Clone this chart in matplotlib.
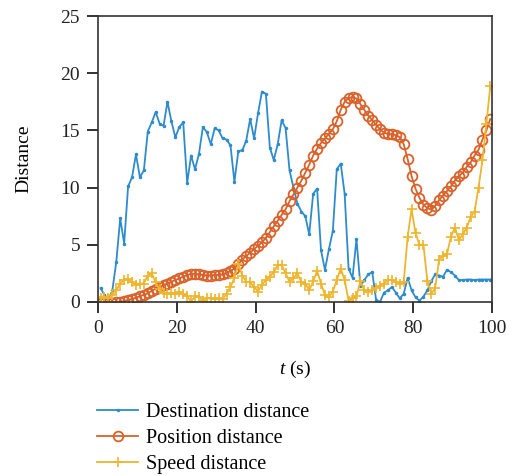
import numpy as np
import matplotlib
matplotlib.use('Agg')
import matplotlib.pyplot as plt

plt.rcParams['font.family'] = ['Liberation Serif', 'DejaVu Serif']
plt.rcParams['mathtext.fontset'] = 'custom'
plt.rcParams['mathtext.it'] = 'Liberation Serif:italic'
plt.rcParams['mathtext.rm'] = 'Liberation Serif'

# sample times (s)
t = np.arange(1, 101) - 0.4

destination = [
    1.2, 0.6, 0.1, 1.0, 3.5, 7.3, 5.1, 10.1, 10.9, 12.9,
    10.9, 11.5, 14.9, 15.7, 16.6, 15.6, 15.4, 17.5, 15.8, 14.4,
    15.3, 15.7, 10.4, 12.8, 11.6, 12.95, 15.3, 14.85, 13.8, 15.2,
    15.0, 14.3, 14.2, 13.7, 10.5, 13.2, 13.25, 14.1, 16.0, 14.3,
    16.5, 18.4, 18.2, 13.5, 12.4, 13.8, 15.9, 15.2, 11.5, 10.0,
    8.6, 7.9, 7.5, 5.9, 9.45, 9.9, 4.5, 2.8, 4.6, 6.2,
    11.6, 12.1, 9.45, 2.9, 2.1, 5.5, 1.4, 1.9, 2.4, 2.6,
    0.15, 0.0, 0.8, 1.0, 1.3, 0.8, 0.3, 0.7, 2.1, 1.0,
    0.4, 0.1, 0.45, 1.0, 1.8, 2.4, 2.3, 2.2, 2.8, 2.6,
    2.3, 1.9, 1.9, 1.95, 1.95, 1.9, 1.95, 1.95, 1.95, 1.95,
]

position = [
    -0.1, -0.1, -0.1, -0.1, -0.05, 0.0, 0.05, 0.15, 0.25, 0.35,
    0.5, 0.6, 0.75, 0.95, 1.15, 1.3, 1.45, 1.6, 1.75, 1.9,
    2.05, 2.2, 2.35, 2.45, 2.45, 2.4, 2.35, 2.3, 2.3, 2.35,
    2.35, 2.4, 2.5, 2.7, 2.9, 3.3, 3.7, 4.0, 4.3, 4.6,
    4.9, 5.2, 5.6, 6.1, 6.6, 7.1, 7.6, 8.1, 8.8, 9.4,
    10.0, 10.6, 11.3, 12.0, 12.8, 13.4, 13.9, 14.3, 14.7, 15.1,
    15.8, 16.8, 17.5, 17.85, 17.9, 17.8, 17.3, 16.8, 16.3, 15.9,
    15.5, 15.1, 14.8, 14.7, 14.65, 14.6, 14.4, 13.8, 12.5, 11.0,
    9.9, 9.1, 8.5, 8.2, 8.05, 8.4, 8.9, 9.3, 9.7, 10.1,
    10.6, 11.0, 11.3, 11.8, 12.2, 12.8, 13.3, 14.2, 15.0, 16.0,
]

speed = [
    0.3, 0.4, 0.3, 0.6, 1.0, 1.6, 1.9, 2.0, 1.7, 1.5,
    1.6, 1.6, 2.3, 2.5, 1.7, 1.1, 0.75, 0.7, 0.75, 0.7,
    0.85, 0.65, 0.5, 0.0, 0.5, 0.45, 0.05, 0.3, 0.3, 0.2,
    0.3, 0.2, 0.7, 1.3, 2.1, 3.3, 2.3, 1.75, 1.7, 1.3,
    0.9, 1.5, 1.9, 2.2, 2.6, 3.2, 3.2, 2.5, 1.75, 2.1,
    2.5, 1.7, 1.6, 1.0, 1.8, 2.7, 1.6, 0.6, 0.4, 0.9,
    1.9, 2.9, 1.9, 0.1, 0.3, 0.5, 1.8, 1.0, 0.9, 1.0,
    1.25, 1.4, 1.6, 1.9, 1.9, 1.75, 1.6, 1.7, 5.7, 8.1,
    6.0, 5.0, 5.0, 1.85, 0.7, 1.2, 3.7, 4.0, 4.2, 5.7,
    6.5, 5.4, 5.9, 6.5, 7.4, 7.9, 10.0, 12.4, 15.6, 18.9,
]

blue = '#2e8bcc'
orange = '#d9622b'
yellow = '#eeb52e'

fig = plt.figure(figsize=(5.14, 4.76), dpi=100)
ax = fig.add_axes([0.191, 0.366, 0.766, 0.600])

ax.plot(t, destination, color=blue, lw=1.3, marker='.', markersize=3,
        label='Destination distance')
ax.plot(t, position, color=orange, lw=1.3, marker='o', markersize=7,
        markerfacecolor='none', markeredgewidth=1.3, label='Position distance')
ax.plot(t, speed, color=yellow, lw=1.3, marker='+', markersize=7,
        markeredgewidth=1.2, label='Speed distance')

ax.set_xlim(0, 100)
ax.set_ylim(0, 25)
ax.set_xticks([0, 20, 40, 60, 80, 100])
ax.set_yticks([0, 5, 10, 15, 20, 25])
ax.tick_params(direction='out', length=8, width=1.3, labelsize=14, pad=5,
               colors='#222222')
for s in ax.spines.values():
    s.set_linewidth(1.2)
    s.set_color('#333333')

ax.set_xlabel('$t$ (s)', fontsize=14, labelpad=16)
ax.set_ylabel('Distance', fontsize=14, labelpad=20)

fig.legend(loc='upper left', bbox_to_anchor=(0.174, 0.17), frameon=False,
           fontsize=14.5, handlelength=2.0, handletextpad=0.4, labelspacing=0.33,
           borderaxespad=0)

fig.savefig('out.png', dpi=100)
